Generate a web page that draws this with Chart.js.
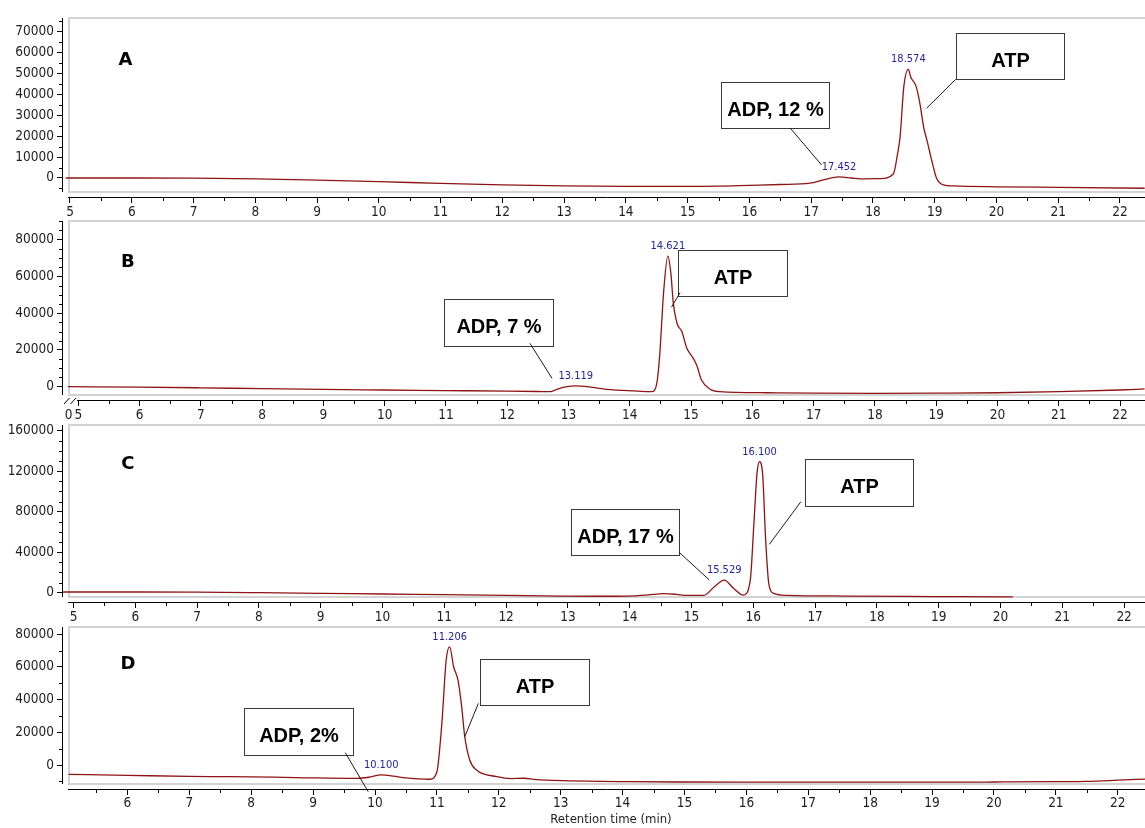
<!DOCTYPE html>
<html>
<head>
<meta charset="utf-8">
<script src="https://cdn.jsdelivr.net/npm/chart.js@4.4.1/dist/chart.umd.min.js"></script>
<style>
  html, body { margin: 0; padding: 0; background: #fff; }
  body { position: relative; width: 1145px; height: 828px; overflow: hidden; }
  canvas { position: absolute; left: 0; top: 0; }
</style>
</head>
<body>
<canvas id="runA" width="1145" height="828"></canvas>
<canvas id="runB" width="1145" height="828"></canvas>
<canvas id="runC" width="1145" height="828"></canvas>
<canvas id="runD" width="1145" height="828"></canvas>
<script>
// ---- Chromatogram data: retention time (min) and detector signal ----
const timeA   = [4.93, 6, 7, 8, 9, 10, 11, 12, 13, 14, 15, 15.5, 16, 16.5, 16.98, 17.2, 17.452, 17.65, 17.8, 18.12, 18.33, 18.4, 18.44, 18.5, 18.574, 18.61, 18.7, 18.76, 18.82, 18.88, 18.95, 19.03, 19.14, 19.3, 20, 21, 22.4];
const signalA = [0, 0, -100, -400, -1000, -1700, -2600, -3300, -3800, -4000, -4000, -3900, -3500, -3100, -2500, -900, 500, 0, -400, -300, 1900, 11800, 19800, 43700, 52000, 48500, 43700, 35700, 24500, 17400, 8600, -100, -3300, -3800, -4200, -4500, -4900];

const timeB   = [4.83, 6, 7, 8, 9, 10, 11, 12, 12.5, 12.7, 12.81, 12.95, 13.119, 13.3, 13.62, 14.06, 14.36, 14.44, 14.49, 14.55, 14.621, 14.67, 14.71, 14.77, 14.85, 14.93, 15.01, 15.09, 15.17, 15.31, 15.47, 16.23, 17, 18, 19, 20, 21, 22, 22.4];
const signalB = [0, -200, -600, -1100, -1500, -1800, -2100, -2400, -2600, -2700, -1400, -100, 500, 0, -1400, -2300, -2700, 1800, 18200, 50800, 71000, 61600, 45300, 34500, 29900, 20900, 16700, 11800, 3600, -1400, -2700, -3300, -3500, -3600, -3500, -3300, -2700, -1800, -1200];

const timeC   = [4.82, 6, 7, 8, 9, 10, 11, 12, 12.88, 13.5, 13.96, 14.3, 14.55, 14.75, 14.93, 15.2, 15.37, 15.529, 15.68, 15.84, 15.95, 16.01, 16.06, 16.1, 16.15, 16.2, 16.25, 16.33, 16.55, 17.5, 18.5, 19.35, 20.2];
const signalC = [700, 700, 500, 0, -600, -1300, -1900, -2600, -3300, -3500, -3300, -2200, -1000, -1600, -2600, -2600, 5900, 12500, 4300, -2300, 12000, 68500, 117900, 129400, 117900, 52000, 9300, -600, -2600, -3300, -3700, -3900, -4200];

const timeD   = [5.05, 6, 7, 7.66, 8.73, 9.7, 9.9, 10.1, 10.3, 10.46, 10.89, 11.0, 11.08, 11.15, 11.206, 11.27, 11.34, 11.4, 11.45, 11.53, 11.64, 11.97, 12.2, 12.4, 12.6, 13.04, 14.12, 15, 16, 17, 18, 19, 20, 21, 21.5, 22, 22.44];
const signalD = [-5700, -6300, -7000, -7100, -7700, -8200, -7500, -6100, -6800, -7700, -8700, -4100, 25500, 64200, 72300, 60100, 52000, 35700, 17300, 3100, -3100, -7100, -8300, -8100, -8900, -9600, -10200, -10400, -10500, -10500, -10500, -10500, -10400, -10200, -10000, -9300, -8600];

// Labelled peak retention times
const peaksA = [17.452, 18.574];
const peaksB = [13.119, 14.621];
const peaksC = [15.529, 16.100];
const peaksD = [10.100, 11.206];

// Tick labels
const timeTicks = [5, 6, 7, 8, 9, 10, 11, 12, 13, 14, 15, 16, 17, 18, 19, 20, 21, 22];
const ticksA = [0, 10000, 20000, 30000, 40000, 50000, 60000, 70000];
const ticksB = [0, 20000, 40000, 60000, 80000];
const ticksC = [0, 40000, 80000, 120000, 160000];
const ticksD = [0, 20000, 40000, 60000, 80000];

// Callout texts
const adpLabels = ['ADP, 12 %', 'ADP, 7 %', 'ADP, 17 %', 'ADP, 2%'];
const atpLabel = 'ATP';
const panelLetters = ['A', 'B', 'C', 'D'];
const axisCaption = 'Retention time (min)';

// ---- styling ----
const PAGE_H = 828;
const TRACE = '#8e1414';
const INK = '#1e1e1e';
const FRAME = '#d3d3d3';
const PEAK_INK = '#24249e';
const TICK_FONT = "'DejaVu Sans Condensed', 'DejaVu Sans', sans-serif";
const TICK_SIZE = 13.5;
const BOX_FONT = "bold 20px 'Liberation Sans', Arial, sans-serif";
const LETTER_FONT = "bold 18px 'DejaVu Sans', sans-serif";

const deco = {
  id: 'deco',
  beforeDatasetsDraw(chart, _args, o) {
    const { ctx, chartArea: a } = chart;
    ctx.save();
    ctx.strokeStyle = FRAME;
    ctx.lineWidth = 2;
    ctx.beginPath();
    ctx.moveTo(a.right + 2, a.top + 1);
    ctx.lineTo(a.left + 7, a.top + 1);
    ctx.lineTo(a.left + 7, a.bottom - 5);
    ctx.lineTo(a.right + 2, a.bottom - 5);
    ctx.stroke();
    ctx.restore();
  },
  afterDraw(chart, _args, o) {
    const { ctx, chartArea: a } = chart;
    const xs = chart.scales.x, ys = chart.scales.y;
    ctx.save();
    ctx.strokeStyle = '#000';
    ctx.lineWidth = 1;

    // axis lines, offset from the plot frame
    ctx.beginPath();
    ctx.moveTo(a.left + 0.5, a.top + 1);
    ctx.lineTo(a.left + 0.5, a.bottom - 5);
    const xStart = o.broken ? a.left + 15 : a.left + 6;
    ctx.moveTo(xStart, a.bottom + 0.5);
    ctx.lineTo(a.right, a.bottom + 0.5);
    ctx.stroke();

    // minor ticks
    ctx.beginPath();
    const vLo = ys.getValueForPixel(a.bottom - 5), vHi = ys.getValueForPixel(a.top + 1);
    for (let v = Math.ceil(vLo / o.minor) * o.minor; v <= vHi; v += o.minor) {
      if (o.yTicks.includes(v)) continue;
      const p = Math.round(ys.getPixelForValue(v)) + 0.5;
      ctx.moveTo(a.left - 3, p); ctx.lineTo(a.left, p);
    }
    const tLo = xs.getValueForPixel(xStart);
    for (let t = Math.ceil(tLo * 2) / 2; t <= xs.max; t += 0.5) {
      if (Number.isInteger(t)) continue;
      const p = Math.round(xs.getPixelForValue(t)) + 0.5;
      ctx.moveTo(p, a.bottom); ctx.lineTo(p, a.bottom + 4);
    }
    ctx.stroke();

    // axis break on the time axis
    if (o.broken) {
      ctx.beginPath();
      ctx.moveTo(a.left + 2, a.bottom + 4); ctx.lineTo(a.left + 7.5, a.bottom - 2);
      ctx.moveTo(a.left + 8.5, a.bottom + 4); ctx.lineTo(a.left + 14, a.bottom - 2);
      ctx.stroke();
      ctx.fillStyle = INK;
      ctx.font = TICK_SIZE + 'px ' + TICK_FONT;
      ctx.textAlign = 'center';
      ctx.textBaseline = 'middle';
      ctx.fillText('0', a.left + 6.5, a.bottom + 6 + o.xPad + TICK_SIZE * 0.6);
    }

    // peak retention-time labels
    ctx.fillStyle = PEAK_INK;
    ctx.font = '11px ' + TICK_FONT;
    ctx.textAlign = 'center';
    ctx.textBaseline = 'middle';
    o.peaks.forEach(t => {
      const i = o.time.indexOf(t);
      const px = xs.getPixelForValue(t), py = ys.getPixelForValue(o.signal[i]);
      ctx.fillText(t.toFixed(3), px, py - 10);
    });

    // callout boxes with leader lines
    o.notes.forEach(n => {
      const x0 = Math.round(xs.getPixelForValue(n.box[0])) + 0.5;
      const x1 = Math.round(xs.getPixelForValue(n.box[1])) + 0.5;
      const y0 = Math.round(ys.getPixelForValue(n.box[2])) + 0.5;
      const y1 = Math.round(ys.getPixelForValue(n.box[3])) + 0.5;
      ctx.fillStyle = '#fff';
      ctx.fillRect(x0, y0, x1 - x0, y1 - y0);
      ctx.strokeStyle = '#3a3a3a';
      ctx.lineWidth = 1;
      ctx.strokeRect(x0, y0, x1 - x0, y1 - y0);
      ctx.strokeStyle = '#1a1a1a';
      ctx.beginPath();
      ctx.moveTo(xs.getPixelForValue(n.from[0]), ys.getPixelForValue(n.from[1]));
      ctx.lineTo(xs.getPixelForValue(n.to[0]), ys.getPixelForValue(n.to[1]));
      ctx.stroke();
      ctx.fillStyle = '#000';
      ctx.font = BOX_FONT;
      ctx.textAlign = 'center';
      ctx.textBaseline = 'middle';
      ctx.fillText(n.text, (x0 + x1) / 2, (y0 + y1) / 2 + 4.5);
    });

    // panel letter
    ctx.fillStyle = '#000';
    ctx.font = LETTER_FONT;
    ctx.textAlign = 'center';
    ctx.textBaseline = 'middle';
    ctx.fillText(o.letter, xs.getPixelForValue(o.letterAt[0]), ys.getPixelForValue(o.letterAt[1]));

    if (o.caption) {
      ctx.fillStyle = INK;
      ctx.font = '13px ' + TICK_FONT;
      ctx.fillText(o.caption, 611, a.bottom + 31);
    }
    ctx.restore();
  }
};

function panel(id, cfg) {
  const points = cfg.time.map((t, i) => ({ x: t, y: cfg.signal[i] }));
  return new Chart(document.getElementById(id), {
    type: 'line',
    data: {
      datasets: [{
        data: points,
        borderColor: TRACE,
        borderWidth: 1.3,
        pointRadius: 0,
        fill: false,
        cubicInterpolationMode: 'monotone'
      }]
    },
    options: {
      responsive: false,
      animation: false,
      events: [],
      devicePixelRatio: 1,
      layout: { padding: { top: cfg.top, left: 0, right: 0, bottom: 0 } },
      plugins: { legend: { display: false }, tooltip: { enabled: false }, deco: cfg },
      scales: {
        x: {
          type: 'linear',
          min: cfg.xMin, max: cfg.xMax,
          afterFit: s => { s.height = PAGE_H - cfg.bottom; },
          afterBuildTicks: s => { s.ticks = cfg.xTicks.map(v => ({ value: v })); },
          ticks: {
            autoSkip: false, maxRotation: 0, minRotation: 0,
            padding: cfg.xPad, color: INK,
            font: { family: TICK_FONT, size: TICK_SIZE },
            callback: v => String(v)
          },
          grid: { drawOnChartArea: false, tickLength: 6, tickColor: '#000', tickWidth: 1 },
          border: { display: false }
        },
        y: {
          type: 'linear',
          min: cfg.yMin, max: cfg.yMax,
          afterFit: s => { s.width = 62; },
          afterBuildTicks: s => { s.ticks = cfg.yTicks.map(v => ({ value: v })); },
          ticks: {
            autoSkip: false, padding: 3, color: INK,
            font: { family: TICK_FONT, size: TICK_SIZE },
            callback: v => String(v)
          },
          grid: { drawOnChartArea: false, tickLength: 5, tickColor: '#000', tickWidth: 1 },
          border: { display: false }
        }
      }
    },
    plugins: [deco]
  });
}

panel('runA', {
  time: timeA, signal: signalA, peaks: peaksA,
  top: 17, bottom: 197, xPad: 1,
  xMin: 4.8705, xMax: 22.405, yMin: -9092, yMax: 77040,
  xTicks: timeTicks, yTicks: ticksA, minor: 5000,
  letter: panelLetters[0], letterAt: [5.90, 56460],
  notes: [
    { text: adpLabels[0], box: [15.54, 17.29, 45900, 23900], from: [16.66, 23900], to: [17.17, 6200] },
    { text: atpLabel, box: [19.34, 21.09, 69500, 47200], from: [19.34, 47200], to: [18.87, 33400] }
  ]
});

panel('runB', {
  time: timeB, signal: signalB, peaks: peaksB,
  top: 220, bottom: 400, xPad: 1, broken: true,
  xMin: 4.734, xMax: 22.407, yMin: -7229, yMax: 90601,
  xTicks: timeTicks, yTicks: ticksB, minor: 5000,
  letter: panelLetters[1], letterAt: [5.81, 67770],
  notes: [
    { text: adpLabels[1], box: [10.97, 12.74, 47700, 22300], from: [12.37, 23600], to: [12.73, 4600] },
    { text: atpLabel, box: [14.79, 16.57, 74300, 49300], from: [14.82, 51100], to: [14.68, 43200] }
  ]
});

panel('runC', {
  time: timeC, signal: signalC, peaks: peaksC,
  top: 424, bottom: 602, xPad: 1,
  xMin: 4.814, xMax: 22.338, yMin: -9186, yMax: 166626,
  xTicks: timeTicks, yTicks: ticksC, minor: 10000,
  letter: panelLetters[2], letterAt: [5.88, 127100],
  notes: [
    { text: adpLabels[2], box: [13.05, 14.80, 82700, 37200], from: [14.80, 39900], to: [15.29, 12500] },
    { text: atpLabel, box: [16.84, 18.59, 131800, 85600], from: [16.77, 89900], to: [16.26, 47800] }
  ]
});

panel('runD', {
  time: timeD, signal: signalD, peaks: peaksD,
  top: 626, bottom: 789, xPad: 0,
  xMin: 4.943, xMax: 22.44, yMin: -14678, yMax: 85012,
  xTicks: timeTicks.slice(1), yTicks: ticksD, minor: 10000,
  letter: panelLetters[3], letterAt: [6.01, 61470],
  caption: axisCaption,
  notes: [
    { text: adpLabels[3], box: [7.89, 9.65, 34700, 6100], from: [9.52, 7500], to: [9.89, -16300] },
    { text: atpLabel, box: [11.69, 13.45, 64800, 36700], from: [11.67, 37700], to: [11.45, 17300] }
  ]
});
</script>
</body>
</html>
